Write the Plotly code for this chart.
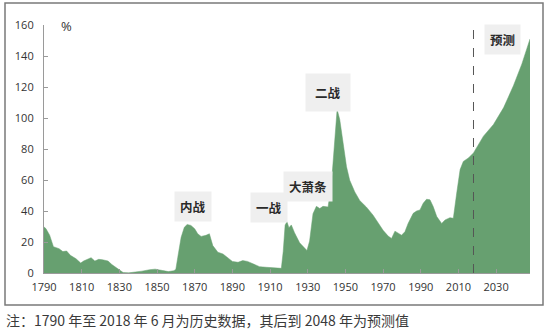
import plotly.graph_objects as go

# ---- data ----
years = [1790, 1791, 1793, 1795, 1798, 1800, 1802, 1804, 1807, 1809.5, 1811, 1815, 1817, 1819,
         1821, 1824, 1826, 1829, 1832, 1835, 1839, 1842, 1846, 1849, 1853, 1856, 1859, 1860,
         1861, 1862.8, 1864.5, 1866, 1868, 1870, 1871.6, 1873.4, 1876, 1877.8, 1879.6, 1882.3,
         1885, 1887.5, 1890, 1893, 1895.5, 1898, 1901, 1904.4, 1908, 1911.5, 1915, 1916,
         1917, 1918, 1919, 1920, 1921.3, 1923, 1925.7, 1928.4, 1929.6, 1931, 1932.8, 1934.6,
         1936.4, 1938.1, 1940.8, 1942.6, 1944.3, 1945.6, 1947, 1948.8, 1950.6, 1952.3, 1955,
         1957.6, 1961.2, 1964.7, 1967.4, 1970, 1972.7, 1974.5, 1976.3, 1978, 1979.8, 1981.6,
         1983.3, 1986, 1987.8, 1989.6, 1991.3, 1993.1, 1994.9, 1996.6, 1998.5, 2001.1, 2002.9,
         2005.5, 2007.3, 2009.1, 2010.9, 2012.6, 2015.3, 2018, 2023.3, 2028.6, 2034, 2039.2,
         2043.7, 2048]
debt_pct = [29.7, 28.7, 24.4, 17, 15.7, 13.8, 14.2, 11.4, 9.2, 6.4, 7.7, 9.9, 7.7, 8.8,
            8.6, 7.7, 5.5, 2.7, 0.3, 0.1, 0.5, 1.2, 2.1, 2.5, 1.6, 0.9, 1.5, 2.5,
            10, 23, 29.5, 31.3, 30.7, 28.5, 25.3, 23.6, 24.3, 25.3, 17.7, 13.4,
            12.3, 10.1, 7.5, 6.9, 8, 7.5, 5.8, 4.1, 3.7, 3.3, 2.9, 3,
            14, 31, 33, 29.2, 31, 26, 19.5, 16.2, 14.5, 20.6, 38.3, 43,
            41.6, 43, 42.6, 57.8, 85.8, 105.5, 99, 83.8, 68.5, 59.8, 52.3,
            46.8, 42.5, 37.3, 31.9, 27.6, 23.8, 22.3, 27, 25.9, 24.4, 26.6,
            32, 38.5, 40, 40.7, 45, 47.6, 47.2, 42.9, 36.4, 32, 34.2,
            35.7, 35.3, 51.6, 66.7, 72, 74.2, 77.5, 88.3, 95.8, 106.7, 120.8,
            134.9, 151]

x_ticks = list(range(1790, 2031, 20))
y_ticks = list(range(0, 161, 20))
forecast_start = 2018

event_labels = ["内战", "一战", "大萧条", "二战"]
event_x = [1869, 1909.2, 1930.2, 1940.6]
event_y = [42.9, 42, 55.6, 116.7]
event_pad = [5, 5, 5, 9]
forecast_label = "预测"
forecast_label_x = 2033.2

note = "注：1790 年至 2018 年 6 月为历史数据，其后到 2048 年为预测值"

# ---- layout geometry (pixels) ----
W, H = 549, 332
ML, MR, MT, MB = 44, 19, 25, 59
pw, ph = W - ML - MR, H - MT - MB


def px_to_paper_x(px):
    return (px - ML) / pw


def px_to_paper_y(py):
    return (H - MB - py) / ph


GREEN = "#67a070"
TXT = "#333333"
AX = "#9a9a9a"
FONT = "Open Sans, Noto Sans CJK SC, sans-serif"
CJK = "Noto Sans CJK SC, sans-serif"

fig = go.Figure()
fig.add_trace(go.Scatter(x=years, y=debt_pct, mode="lines", fill="tozeroy",
                         fillcolor=GREEN, line=dict(color=GREEN, width=0.5),
                         hoverinfo="skip", showlegend=False))

fig.update_layout(
    width=W, height=H,
    margin=dict(l=ML, r=MR, t=MT, b=MB),
    paper_bgcolor="white", plot_bgcolor="white",
    font=dict(family=FONT, size=11, color=TXT),
    showlegend=False,
    xaxis=dict(range=[1790, 2048], tickvals=x_ticks, ticks="inside", ticklen=4,
               tickcolor=AX, showline=True, linecolor=AX, linewidth=1.2,
               showgrid=False, zeroline=False, ticklabelstandoff=4,
               tickfont=dict(size=11, color=TXT)),
    yaxis=dict(range=[0, 160], tickvals=y_ticks, ticks="inside", ticklen=4,
               tickcolor=AX, showline=True, linecolor=AX, linewidth=1.2,
               showgrid=False, zeroline=False, ticklabelstandoff=7,
               tickfont=dict(size=11, color=TXT)),
)

# forecast divider
fig.add_shape(type="line", xref="x", yref="paper", x0=forecast_start, x1=forecast_start,
              y0=0, y1=px_to_paper_y(22), line=dict(color="#555555", width=1, dash="dash"))

# outer border frame
fig.add_shape(type="rect", xref="paper", yref="paper",
              x0=px_to_paper_x(5), x1=px_to_paper_x(543),
              y0=px_to_paper_y(305), y1=px_to_paper_y(3),
              line=dict(color="#7a7a7a", width=1.5), fillcolor="rgba(0,0,0,0)", layer="below")

for lab, ex, ey, pad in zip(event_labels, event_x, event_y, event_pad):
    fig.add_annotation(x=ex, y=ey, xref="x", yref="y", text="<b>" + lab + "</b>",
                       showarrow=False, bgcolor="#efefef", borderpad=pad,
                       font=dict(family=CJK, size=12.5, color="#2a2a2a"))

fig.add_annotation(x=forecast_label_x, y=px_to_paper_y(24), xref="x", yref="paper",
                   text="<b>" + forecast_label + "</b>", showarrow=False,
                   bgcolor="#efefef", borderpad=5,
                   font=dict(family=CJK, size=12.5, color="#2a2a2a"))

fig.add_annotation(x=1801.7, y=159.6, xref="x", yref="y", text="%", showarrow=False,
                   font=dict(family=FONT, size=13, color=TXT))

fig.add_annotation(x=px_to_paper_x(4), y=px_to_paper_y(320), xref="paper", yref="paper",
                   xanchor="left", yanchor="middle", text=note, showarrow=False,
                   font=dict(family=CJK, size=14, color="#3a3a3a"))

fig.write_html("out.html")
